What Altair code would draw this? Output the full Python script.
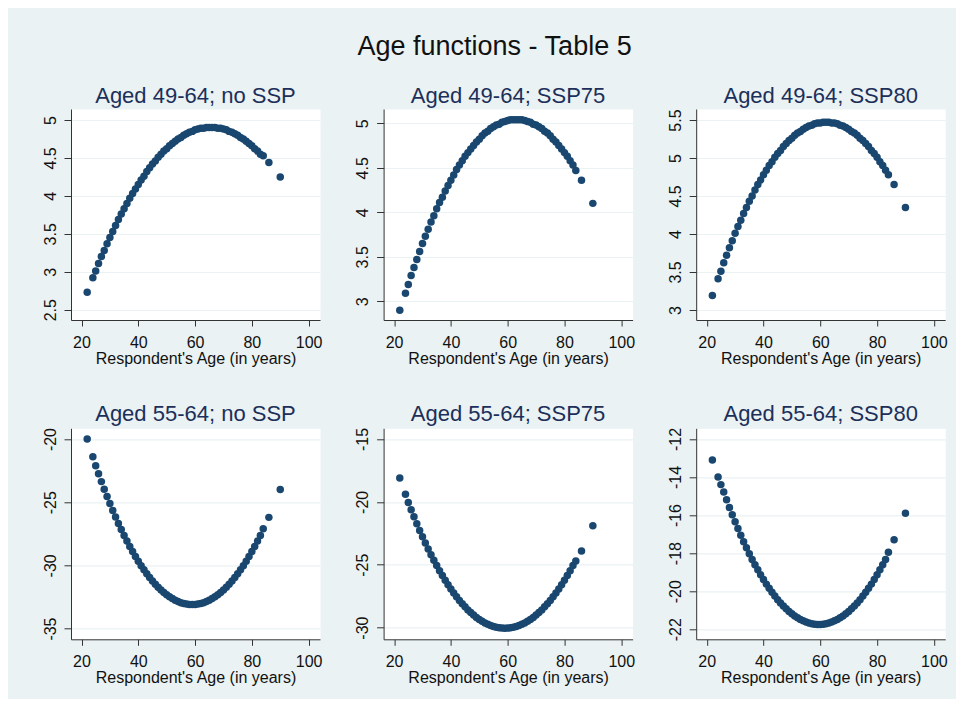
import altair as alt
import pandas as pd

FONT = "Liberation Sans"
TITLE_C = "#1c2f5a"
MARK_C = "#1a476f"
BG = "#eaf2f3"

ages = [22, 24, 25, 26, 27, 28, 29, 30, 31, 32, 33, 34, 35, 36, 37, 38, 39, 40,
        41, 42, 43, 44, 45, 46, 47, 48, 49, 50, 51, 52, 53, 54, 55, 56, 57, 58,
        59, 60, 61, 62, 63, 64, 65, 66, 67, 68, 69, 70, 71, 72, 73, 74, 75, 76,
        77, 78, 79, 80, 81, 82, 83, 84, 86, 90]

p1 = [2.73, 2.92, 3.01, 3.11, 3.20, 3.28, 3.37, 3.45, 3.53, 3.61, 3.69, 3.76, 3.83, 3.90,
      3.97, 4.03, 4.09, 4.15, 4.21, 4.26, 4.32, 4.37, 4.42, 4.46, 4.51, 4.55, 4.59, 4.62,
      4.66, 4.69, 4.72, 4.75, 4.77, 4.80, 4.82, 4.84, 4.85, 4.87, 4.88, 4.89, 4.89, 4.90,
      4.90, 4.90, 4.90, 4.89, 4.89, 4.88, 4.87, 4.85, 4.84, 4.82, 4.80, 4.77, 4.75, 4.72,
      4.69, 4.66, 4.62, 4.59, 4.55, 4.53, 4.44, 4.25]

p2 = [2.90, 3.09, 3.19, 3.29, 3.38, 3.47, 3.56, 3.65, 3.73, 3.81, 3.89, 3.96, 4.04, 4.11,
      4.17, 4.24, 4.30, 4.36, 4.42, 4.48, 4.53, 4.58, 4.63, 4.67, 4.71, 4.75, 4.79, 4.82,
      4.86, 4.89, 4.91, 4.94, 4.96, 4.98, 4.99, 5.01, 5.02, 5.03, 5.04, 5.04, 5.04, 5.04,
      5.04, 5.03, 5.02, 5.01, 4.99, 4.98, 4.96, 4.94, 4.91, 4.89, 4.86, 4.82, 4.79, 4.75,
      4.71, 4.67, 4.63, 4.58, 4.53, 4.47, 4.36, 4.10]

p3 = [3.19, 3.41, 3.51, 3.62, 3.72, 3.82, 3.91, 4.01, 4.10, 4.18, 4.27, 4.35, 4.43, 4.50,
      4.58, 4.65, 4.71, 4.78, 4.84, 4.90, 4.95, 5.01, 5.06, 5.10, 5.15, 5.19, 5.23, 5.26,
      5.30, 5.33, 5.35, 5.38, 5.40, 5.42, 5.43, 5.45, 5.46, 5.46, 5.47, 5.47, 5.47, 5.46,
      5.46, 5.45, 5.43, 5.42, 5.40, 5.38, 5.35, 5.33, 5.30, 5.26, 5.23, 5.19, 5.15, 5.10,
      5.06, 5.01, 4.95, 4.90, 4.84, 4.78, 4.65, 4.35]

p4 = [-20.00, -21.40, -22.12, -22.75, -23.37, -23.97, -24.55, -25.11, -25.65, -26.17,
      -26.68, -27.16, -27.63, -28.07, -28.50, -28.91, -29.30, -29.67, -30.02, -30.35,
      -30.67, -30.96, -31.24, -31.49, -31.73, -31.95, -32.15, -32.33, -32.49, -32.63,
      -32.76, -32.86, -32.95, -33.01, -33.06, -33.09, -33.10, -33.09, -33.06, -33.01,
      -32.95, -32.86, -32.76, -32.63, -32.49, -32.33, -32.15, -31.95, -31.73, -31.49,
      -31.24, -30.96, -30.67, -30.35, -30.02, -29.67, -29.30, -28.91, -28.50, -28.07,
      -27.63, -27.10, -26.20, -24.00]

p5 = [-18.10, -19.40, -20.05, -20.63, -21.19, -21.74, -22.27, -22.78, -23.27, -23.74,
      -24.20, -24.64, -25.07, -25.47, -25.86, -26.24, -26.59, -26.93, -27.25, -27.55,
      -27.84, -28.10, -28.35, -28.59, -28.80, -29.00, -29.19, -29.35, -29.50, -29.63,
      -29.74, -29.83, -29.91, -29.97, -30.02, -30.04, -30.05, -30.04, -30.02, -29.97,
      -29.91, -29.83, -29.74, -29.63, -29.50, -29.35, -29.19, -29.00, -28.80, -28.59,
      -28.35, -28.10, -27.84, -27.55, -27.25, -26.93, -26.59, -26.24, -25.86, -25.47,
      -25.07, -24.70, -23.90, -21.90]

p6 = [-13.10, -14.00, -14.40, -14.79, -15.20, -15.60, -15.98, -16.35, -16.71, -17.06,
      -17.40, -17.72, -18.03, -18.33, -18.61, -18.88, -19.14, -19.39, -19.63, -19.85,
      -20.06, -20.26, -20.45, -20.62, -20.78, -20.93, -21.07, -21.19, -21.30, -21.40,
      -21.49, -21.56, -21.62, -21.67, -21.71, -21.74, -21.75, -21.75, -21.74, -21.71,
      -21.67, -21.62, -21.56, -21.49, -21.40, -21.30, -21.19, -21.07, -20.93, -20.78,
      -20.62, -20.45, -20.26, -20.06, -19.85, -19.63, -19.39, -19.14, -18.88, -18.61,
      -18.33, -17.95, -17.30, -15.90]

titles = ["Aged 49-64; no SSP", "Aged 49-64; SSP75", "Aged 49-64; SSP80",
          "Aged 55-64; no SSP", "Aged 55-64; SSP75", "Aged 55-64; SSP80"]
series = [p1, p2, p3, p4, p5, p6]
y_domains = [[2.364, 5.145], [2.79, 5.16], [2.868, 5.645],
             [-35.85, -19.15], [-30.93, -14.15], [-22.53, -11.44]]
y_ticks = [[2.5, 3, 3.5, 4, 4.5, 5], [3, 3.5, 4, 4.5, 5], [3, 3.5, 4, 4.5, 5, 5.5],
           [-35, -30, -25, -20], [-30, -25, -20, -15], [-22, -20, -18, -16, -14, -12]]
x_ticks = [20, 40, 60, 80, 100]
x_domain = [16.3, 104.0]
x_title = "Respondent's Age (in years)"
main_title = "Age functions - Table 5"


def panel(vals, title, dom, ticks):
    df = pd.DataFrame({"age": ages, "value": vals})
    return (
        alt.Chart(
            df,
            title=alt.TitleParams(
                title, fontSize=22, font=FONT, color=TITLE_C, fontWeight="normal",
                anchor="middle", baseline="alphabetic", offset=-16,
            ),
        )
        .mark_circle(size=56, color=MARK_C, opacity=1)
        .encode(
            x=alt.X(
                "age:Q",
                scale=alt.Scale(domain=x_domain, nice=False, zero=False),
                axis=alt.Axis(
                    values=x_ticks, title=x_title, grid=False, tickSize=6,
                    labelPadding=8, labelExpr="datum.value + ''",
                    titleBaseline="alphabetic", titleY=43,
                ),
            ),
            y=alt.Y(
                "value:Q",
                scale=alt.Scale(domain=dom, nice=False, zero=False),
                axis=alt.Axis(
                    values=ticks, title=None, grid=True, gridColor=BG, gridWidth=1.2,
                    tickSize=7, labelAngle=270, labelAlign="center",
                    labelBaseline="alphabetic", labelPadding=9,
                    labelExpr="datum.value + ''",
                ),
            ),
        )
        .properties(width=249, height=211)
    )


panels = [panel(v, t, d, k) for v, t, d, k in zip(series, titles, y_domains, y_ticks)]

chart = (
    alt.concat(
        *panels,
        columns=3,
        spacing={"row": 108.3, "column": 63.6},
        bounds="flush",
        title=alt.TitleParams(
            main_title, fontSize=27, font=FONT, color="#111111", fontWeight="normal",
            anchor="middle", frame="bounds", offset=3, baseline="alphabetic",
        ),
    )
    .configure(background=BG, padding={"left": 33, "top": 24, "right": 8, "bottom": 13})
    .configure_view(fill="white", strokeOpacity=0)
    .configure_axis(
        domainColor="#333333", tickColor="#333333", labelColor="#111111",
        labelFont=FONT, labelFontSize=16, titleFont=FONT, titleFontSize=16,
        titleFontWeight="normal", titleColor="#111111", domainWidth=1, tickWidth=1,
    )
)

chart.save("out.html", embed_options={"renderer": "svg", "actions": False})
